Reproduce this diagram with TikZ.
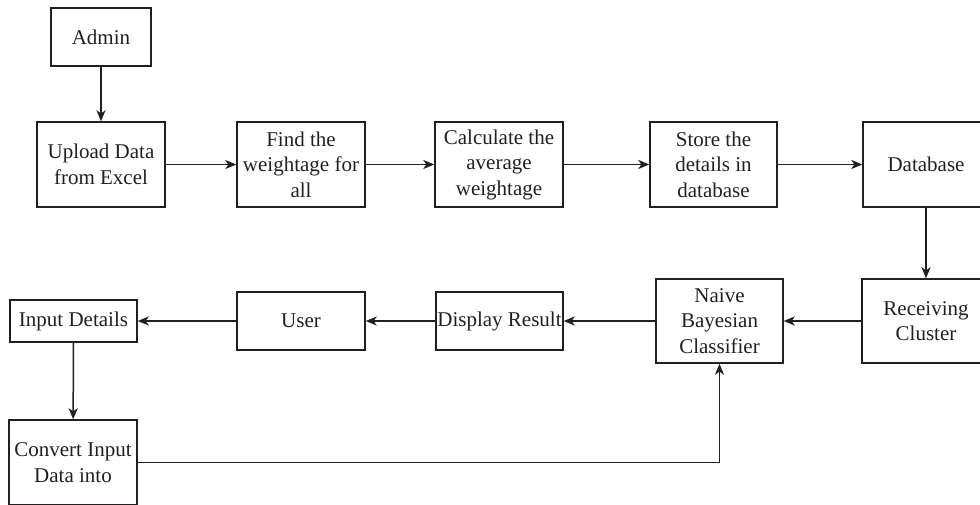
\documentclass[tikz,border=0pt]{standalone}
\usepackage{fontspec}
\setmainfont{Liberation Serif}
\usetikzlibrary{arrows.meta}
\definecolor{ink}{RGB}{35,31,32}
\begin{document}
\begin{tikzpicture}[x=1pt,y=-1pt,
  box/.style={draw=ink,line width=1.4pt,inner sep=0pt,align=center,text=ink,
    font=\fontsize{21}{25.5}\selectfont},
  arr/.style={draw=ink,line width=1.5pt,-{Stealth[length=11pt,width=9pt,inset=3pt]}}]
\useasboundingbox (0,0) rectangle (980,504);
\clip (0,0) rectangle (980,504);
\node[box,minimum width=100pt,minimum height=58pt] (admin) at (101,37) {Admin};
\node[box,minimum width=128pt,minimum height=85pt] (upload) at (101,164.5) {Upload Data\\from Excel};
\node[box,minimum width=128pt,minimum height=85pt] (find) at (301,164.5) {Find the\\weightage for\\all};
\node[box,minimum width=128pt,minimum height=85pt] (calc) at (499,164.5) {Calculate the\\average\\weightage};
\node[box,minimum width=127pt,minimum height=85pt] (store) at (713.5,164.5) {Store the\\details in\\database};
\node[box,minimum width=126pt,minimum height=85pt] (db) at (926,164.5) {Database};
\node[box,minimum width=128pt,minimum height=84pt] (recv) at (926,321) {Receiving\\Cluster};
\node[box,minimum width=127pt,minimum height=84pt] (naive) at (719.5,321) {Naive\\Bayesian\\Classifier};
\node[box,minimum width=127pt,minimum height=58pt] (display) at (499.5,321) {Display Result};
\node[box,minimum width=128pt,minimum height=58pt] (user) at (301,321) {User};
\node[box,minimum width=127pt,minimum height=42pt] (input) at (73.5,321) {Input Details};
\node[box,minimum width=128pt,minimum height=85pt] (convert) at (73,462.5) {Convert Input\\Data into};
\draw[arr] (admin) -- (upload);
\draw[arr] (upload) -- (find);
\draw[arr] (find) -- (calc);
\draw[arr] (calc) -- (store);
\draw[arr] (store) -- (db);
\draw[arr] (db) -- (recv);
\draw[arr] (recv) -- (naive);
\draw[arr] (naive) -- (display);
\draw[arr] (display) -- (user);
\draw[arr] (user) -- (input);
\draw[arr] (input) -- (convert);
\draw[arr] (convert.east) -| (naive.south);
\end{tikzpicture}
\end{document}
